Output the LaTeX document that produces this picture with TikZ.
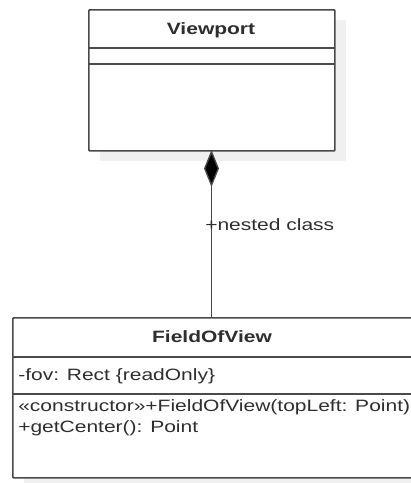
\documentclass[tikz,border=0pt]{standalone}
\usepackage{fontspec}
\setmainfont{Liberation Sans}[FakeStretch=1.28]
\usetikzlibrary{arrows.meta}
\definecolor{umlline}{HTML}{4A4A4A}
\definecolor{umltext}{HTML}{2E2E2E}
\definecolor{umlshadow}{HTML}{F0F0F0}
\tikzset{
  classbox/.style={draw=umlline, line width=1.3pt, fill=white, inner sep=0pt, rounded corners=0.6pt},
  divider/.style={draw=umlline, line width=1.3pt},
  title/.style={font=\fontsize{12.3}{14}\selectfont\bfseries, text=umltext, inner sep=0pt},
  member/.style={font=\fontsize{12.3}{14}\selectfont, text=umltext, inner sep=0pt, anchor=west},
  composition/.style={draw=umlline, line width=1pt,
    {Diamond[length=27.75pt, width=11.25pt, fill=black]}-},
  edgelabel/.style={font=\fontsize{12.3}{14}\selectfont, text=umltext, inner sep=0pt, anchor=west}
}
\begin{document}
\begin{tikzpicture}[x=0.75pt, y=-0.75pt]
  \useasboundingbox (0,0) rectangle (411,483);
  \begin{scope}
    \clip (0,0) rectangle (411,483);
    % drop shadows
    \fill[umlshadow] (100,20) rectangle (346,161);
    \fill[umlshadow] (24,328) rectangle (424,489);
    % Viewport class
    \node[classbox, minimum width=246*0.75pt, minimum height=141*0.75pt, anchor=north west] (vp) at (88,9) {};
    \draw[divider] (88,48) -- (334,48);
    \draw[divider] (88,64) -- (334,64);
    \node[title] (vptitle) at (211,30) {Viewport};
    % FieldOfView class
    \node[classbox, minimum width=400*0.75pt, minimum height=160*0.75pt, anchor=north west] (fov) at (12,317) {};
    \draw[divider] (12,357) -- (412,357);
    \draw[divider] (12,394) -- (412,394);
    \node[title] (fovtitle) at (212,337) {FieldOfView};
    \node[member] (attr) at (18,376) {-fov: Rect \{readOnly\}};
    \node[member] (ctor) at (18,407) {«constructor»+FieldOfView(topLeft: Point)};
    \node[member] (getc) at (18,428) {+getCenter(): Point};
  \end{scope}
  % composition: Viewport owns FieldOfView
  \coordinate (top) at (211.5,150);
  \draw[composition] (top) -- (top |- fov.north);
  \node[edgelabel] (lbl) at (205,225) {+nested class};
\end{tikzpicture}
\end{document}
